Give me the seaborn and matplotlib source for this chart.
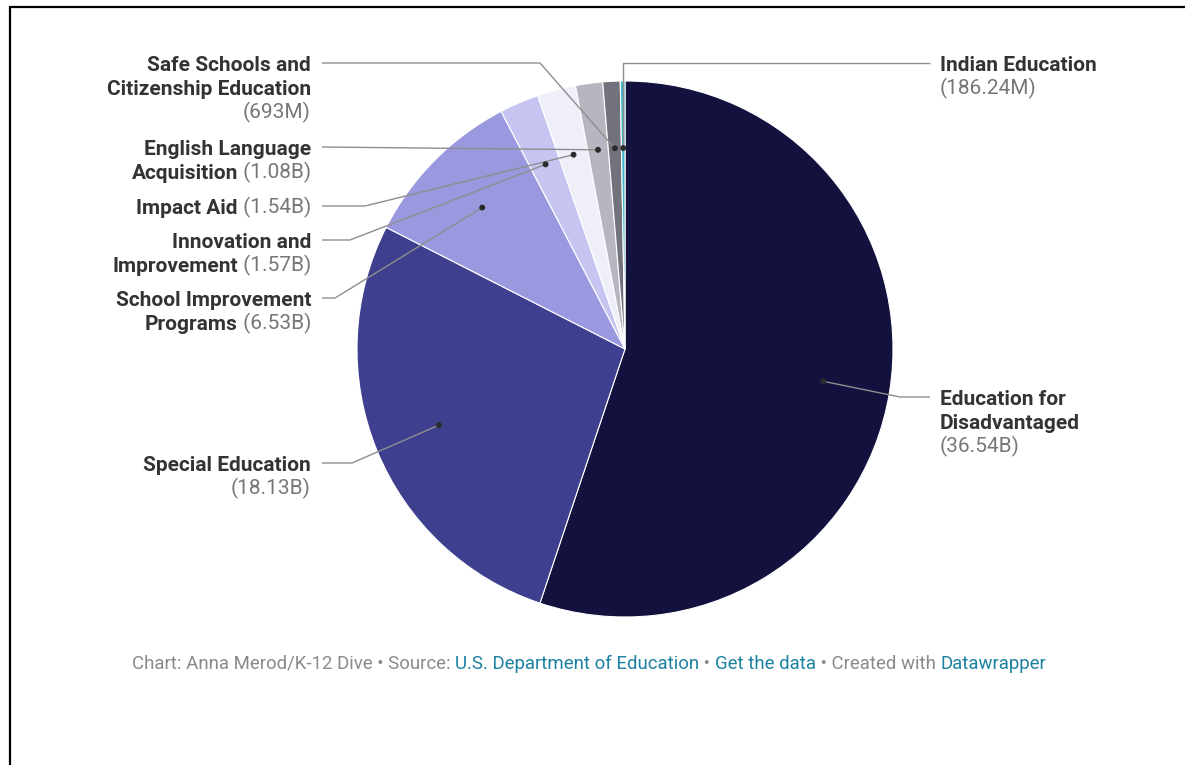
import matplotlib
matplotlib.use("Agg")
import matplotlib.pyplot as plt
import numpy as np
import pandas as pd
import seaborn as sns

# ---- data -------------------------------------------------------------
categories = [
    "Education for Disadvantaged",
    "Special Education",
    "School Improvement Programs",
    "Innovation and Improvement",
    "Impact Aid",
    "English Language Acquisition",
    "Safe Schools and Citizenship Education",
    "Indian Education",
]
values_bn = [36.54, 18.13, 6.53, 1.57, 1.54, 1.08, 0.693, 0.18624]
value_labels = ["36.54B", "18.13B", "6.53B", "1.57B", "1.54B", "1.08B", "693M", "186.24M"]
slice_colors = ["#13123f", "#3f3f8f", "#9a98de", "#c6c5f1", "#efeff9",
                "#b6b6c0", "#72727d", "#3fb6cc"]

# ---- label layout (pixel space, y measured from top) -------------------
label_layout = {
    "Education for Disadvantaged": dict(side="right", y=397, lines=["Education for", "Disadvantaged"], inline=False, elbow=900),
    "Special Education": dict(side="left", y=463, lines=["Special Education"], inline=False, elbow=352),
    "School Improvement Programs": dict(side="left", y=298, lines=["School Improvement", "Programs"], inline=True, elbow=335),
    "Innovation and Improvement": dict(side="left", y=240, lines=["Innovation and", "Improvement"], inline=True, elbow=350),
    "Impact Aid": dict(side="left", y=206, lines=["Impact Aid"], inline=True, elbow=365),
    "English Language Acquisition": dict(side="left", y=147, lines=["English Language", "Acquisition"], inline=True, elbow=None),
    "Safe Schools and Citizenship Education": dict(side="left", y=63, lines=["Safe Schools and", "Citizenship Education"], inline=False, elbow=540),
    "Indian Education": dict(side="right", y=63, lines=["Indian Education"], inline=False, elbow="vertical"),
}

sns.set_theme(style="white")
plt.rcParams["font.family"] = ["Roboto", "DejaVu Sans"]

W, H = 1185, 765
fig = plt.figure(figsize=(W / 100, H / 100), dpi=100)
fig.patch.set_facecolor("white")

# pie axes: square box in pixels
cx, cy, R = 625, 349, 268
ax_pie = fig.add_axes([(cx - R) / W, (H - cy - R) / H, 2 * R / W, 2 * R / H])
wedges, _ = ax_pie.pie(values_bn, colors=slice_colors, startangle=90, counterclock=False,
                       radius=1, wedgeprops=dict(edgecolor="white", linewidth=0.8))
ax_pie.set_xlim(-1, 1)
ax_pie.set_ylim(-1, 1)
ax_pie.set_axis_off()

# overlay in pixel coordinates for labels, leader lines and footer
ax = fig.add_axes([0, 0, 1, 1], zorder=5)
ax.patch.set_alpha(0)

# anchor dots at 3/4 radius along each wedge's mid angle
dots = []
for w in wedges:
    mid = np.deg2rad((w.theta1 + w.theta2) / 2)
    p = ax_pie.transData.transform((0.75 * np.cos(mid), 0.75 * np.sin(mid)))
    dots.append(p)
dots = np.array(dots)
dots[:, 1] = H - dots[:, 1]
dot_df = pd.DataFrame({"x": dots[:, 0], "y": dots[:, 1], "category": categories})

LABEL_FS = 15
BOLD_C = "#333333"
VALUE_C = "#777777"
LINE_C = "#8e8e8e"
LEFT_X, LEFT_LINE = 311, 322
RIGHT_X, RIGHT_LINE = 940, 930
LINE_H = 24
BASE_OFF = 7.5

renderer = fig.canvas.get_renderer()


def width_of(t):
    return t.get_window_extent(renderer=renderer).width


def draw_segments(x, y, segments, side):
    """segments: list of (text, weight, color)."""
    if side == "left":
        cur = x
        for txt, wt, col in reversed(segments):
            t = ax.text(cur, y + BASE_OFF, txt, ha="right", va="baseline", fontsize=LABEL_FS,
                        fontweight=wt, color=col)
            cur -= width_of(t)
    else:
        cur = x
        for txt, wt, col in segments:
            t = ax.text(cur, y + BASE_OFF, txt, ha="left", va="baseline", fontsize=LABEL_FS,
                        fontweight=wt, color=col)
            cur += width_of(t)


for i, cat in enumerate(categories):
    lay = label_layout[cat]
    side = lay["side"]
    x = LEFT_X if side == "left" else RIGHT_X
    y0 = lay["y"]
    lines = [[(ln, "bold", BOLD_C)] for ln in lay["lines"]]
    val = f"({value_labels[i]})"
    if lay["inline"]:
        lines[-1].append((" " + val, "normal", VALUE_C))
    else:
        lines.append([(val, "normal", VALUE_C)])
    for k, segs in enumerate(lines):
        draw_segments(x, y0 + k * LINE_H, segs, side)

    # leader line
    dx, dy = dots[i]
    start = LEFT_LINE if side == "left" else RIGHT_LINE
    elbow = lay["elbow"]
    if elbow is None:
        xs, ys = [start, dx], [y0, dy]
    elif elbow == "vertical":
        xs, ys = [start, dx, dx], [y0, y0, dy]
    else:
        xs, ys = [start, elbow, dx], [y0, y0, dy]
    ax.plot(xs, ys, color=LINE_C, lw=1.0, solid_capstyle="butt", zorder=3)

sns.scatterplot(data=dot_df, x="x", y="y", ax=ax, color="#2b2b2b", s=18,
                edgecolor="none", legend=False, zorder=6)

# footer
FOOT_FS = 13.4
GREY = "#8a8a8a"
BLUE = "#1d81a2"
footer = [
    ("Chart: Anna Merod/K-12 Dive \u2022 Source: ", GREY),
    ("U.S. Department of Education", BLUE),
    (" \u2022 ", GREY),
    ("Get the data", BLUE),
    (" \u2022 Created with ", GREY),
    ("Datawrapper", BLUE),
]
cur = 132
for txt, col in footer:
    t = ax.text(cur, 669, txt, ha="left", va="baseline", fontsize=FOOT_FS, color=col)
    cur += width_of(t)

# frame edges along the top and left
ax.plot([9.5, 9.5], [6.5, H], color="black", lw=1.6, clip_on=False)
ax.plot([9.5, W], [6.5, 6.5], color="black", lw=1.6, clip_on=False)

ax.set_xlim(0, W)
ax.set_ylim(H, 0)
ax.set_axis_off()

fig.savefig("out.png", dpi=100, facecolor="white")
